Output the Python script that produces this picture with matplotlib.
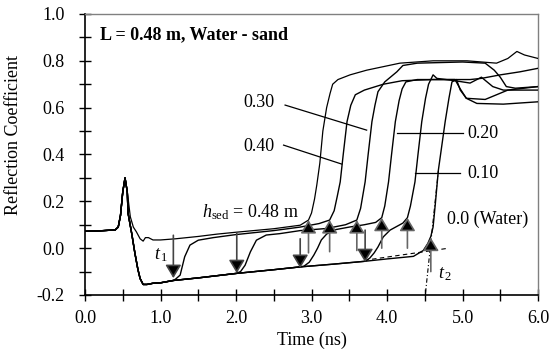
import numpy as np
import matplotlib
matplotlib.use('Agg')
import matplotlib.pyplot as plt
from matplotlib.ticker import MultipleLocator, FormatStrFormatter

plt.rcParams['font.family'] = ['Liberation Serif', 'DejaVu Serif']
plt.rcParams['font.size'] = 13
plt.rcParams['axes.unicode_minus'] = False
plt.rcParams['mathtext.fontset'] = 'custom'
plt.rcParams['mathtext.rm'] = 'Liberation Serif'
plt.rcParams['mathtext.it'] = 'Liberation Serif:italic'

# shared start of every trace: baseline and launch pulse
pulse_t = [0.0, 0.2, 0.4, 0.44, 0.47, 0.50, 0.53, 0.56]
pulse_v = [0.072, 0.074, 0.078, 0.09, 0.14, 0.24, 0.30, 0.24]

# probe fully in water (lower band), used up to t1 by the partly covered traces
water_t = [0.57, 0.62, 0.66, 0.70, 0.73, 0.77, 0.82, 0.9, 1.0, 1.17, 1.5, 2.0, 2.5,
           2.85, 3.3, 3.71, 4.0, 4.35, 4.48, 4.54, 4.58, 4.61, 4.64, 4.68, 4.77,
           4.82, 4.86]
water_v = [0.15, 0.06, -0.02, -0.09, -0.13, -0.155, -0.155, -0.15, -0.148, -0.138,
           -0.127, -0.108, -0.092, -0.08, -0.068, -0.056, -0.046, -0.035, -0.01,
           0.02, 0.05, 0.09, 0.19, 0.333, 0.54, 0.64, 0.71]

# h_sed = 0.48 m (all sand)
sand48_t = [0.60, 0.64, 0.68, 0.73, 0.77, 0.80, 0.84, 0.9, 1.0, 1.2, 1.5, 1.75, 2.0,
            2.5, 2.85, 2.96, 3.0, 3.04, 3.07, 3.11, 3.15, 3.2, 3.245, 3.28, 3.35,
            3.51, 3.73, 3.95, 4.17, 4.61, 5.06, 5.45, 5.6, 5.72, 5.82, 6.0]
sand48_v = [0.134, 0.09, 0.07, 0.04, 0.03, 0.045, 0.045, 0.035, 0.035, 0.04, 0.05,
            0.06, 0.068, 0.083, 0.098, 0.12, 0.15, 0.21, 0.27, 0.363, 0.5, 0.6,
            0.66, 0.70, 0.72, 0.74, 0.76, 0.775, 0.79, 0.80, 0.80, 0.79, 0.81,
            0.84, 0.825, 0.81]

# h_sed = 0.40 m
sand40_t1 = 1.17
sand40_t = [1.2, 1.26, 1.32, 1.39, 1.5, 1.7, 2.0, 2.5, 2.85, 3.1, 3.24, 3.3, 3.34,
            3.38, 3.42, 3.47, 3.52, 3.58, 3.7, 3.95, 4.2, 4.6, 5.1, 5.25, 5.5,
            5.76, 6.0]
sand40_v = [-0.132, -0.115, -0.037, 0.013, 0.034, 0.045, 0.058, 0.075, 0.09, 0.105,
            0.12, 0.16, 0.22, 0.283, 0.40, 0.54, 0.61, 0.655, 0.675, 0.70, 0.715,
            0.72, 0.72, 0.725, 0.74, 0.753, 0.768]

# h_sed = 0.30 m
sand30_t1 = 2.01
sand30_t = [2.06, 2.12, 2.19, 2.27, 2.4, 2.58, 2.85, 3.2, 3.45, 3.6, 3.65, 3.71,
            3.75, 3.80, 3.84, 3.88, 3.97, 4.13, 4.21, 4.4, 5.0, 5.3, 5.42, 5.5,
            5.58, 5.7, 6.0]
sand30_v = [-0.1, -0.073, -0.016, 0.034, 0.056, 0.062, 0.075, 0.084, 0.1, 0.12,
            0.17, 0.283, 0.40, 0.54, 0.61, 0.668, 0.71, 0.753, 0.78, 0.79, 0.795,
            0.79, 0.76, 0.73, 0.69, 0.683, 0.69]

# h_sed = 0.20 m
sand20_t1 = 2.85
sand20_t = [2.9, 2.97, 3.03, 3.08, 3.13, 3.2, 3.3, 3.5, 3.7, 3.85, 3.93, 3.97, 4.02,
            4.06, 4.11, 4.16, 4.2, 4.25, 4.4, 4.9, 4.97, 5.05, 5.3, 5.45, 5.6, 6.0]
sand20_v = [-0.077, -0.06, -0.03, 0.0, 0.035, 0.06, 0.078, 0.09, 0.1, 0.11, 0.13,
            0.18, 0.283, 0.40, 0.54, 0.63, 0.68, 0.71, 0.72, 0.72, 0.68, 0.64,
            0.635, 0.655, 0.675, 0.69]

# h_sed = 0.10 m
sand10_t1 = 3.71
sand10_t = [3.77, 3.83, 3.88, 3.95, 4.04, 4.21, 4.27, 4.31, 4.37, 4.41, 4.46, 4.51,
            4.55, 4.61, 4.66, 4.9, 5.1, 5.25, 5.4, 5.54, 6.0]
sand10_v = [-0.043, -0.02, 0.005, 0.048, 0.077, 0.107, 0.13, 0.18, 0.283, 0.40,
            0.54, 0.64, 0.70, 0.74, 0.725, 0.715, 0.705, 0.73, 0.69, 0.675, 0.675]

# h_sed = 0.0 (water only), after the common water part
water_end_t = [4.92, 4.97, 5.05, 5.19, 5.54, 6.0]
water_end_v = [0.72, 0.675, 0.64, 0.618, 0.615, 0.625]

# arrows: t1 (down) and t2 (up)
t1_times = [1.17, 2.01, 2.85, 3.71]
t1_tail = [0.055, 0.064, 0.04, 0.077]
t1_tip = [-0.128, -0.107, -0.085, -0.06]
t2_times = [2.96, 3.24, 3.60, 3.93, 4.27, 4.58]
t2_tail = [-0.02, -0.015, -0.01, 0.0, 0.0, -0.10]
t2_tip = [0.12, 0.12, 0.12, 0.13, 0.13, 0.045]

# tangent construction for t2
tangent_flat_t = [3.70, 4.82]
tangent_flat_v = [-0.052, 0.0]
tangent_steep_t = [4.51, 4.68]
tangent_steep_v = [-0.19, 0.33]

# leader lines for the labels
leader_30 = ([2.65, 3.73], [0.611, 0.504])
leader_40 = ([2.63, 3.40], [0.44, 0.359])
leader_20 = ([4.13, 5.01], [0.49, 0.49])
leader_10 = ([4.37, 4.97], [0.32, 0.32])


def build_trace(t1, own_t, own_v):
    wt = np.array(water_t)
    wv = np.array(water_v)
    keep = wt <= t1
    t = np.concatenate([pulse_t, wt[keep], own_t])
    v = np.concatenate([pulse_v, wv[keep], own_v])
    return t, v


fig = plt.figure(figsize=(5.52, 3.54), dpi=100)
ax = fig.add_axes([0.154, 0.1667, 0.8207, 0.7938])

traces = [
    (np.concatenate([pulse_t, sand48_t]), np.concatenate([pulse_v, sand48_v]), 0.9),
    build_trace(sand40_t1, sand40_t, sand40_v) + (1.0,),
    build_trace(sand30_t1, sand30_t, sand30_v) + (1.0,),
    build_trace(sand20_t1, sand20_t, sand20_v) + (1.0,),
    build_trace(sand10_t1, sand10_t, sand10_v) + (1.0,),
    build_trace(9.0, water_end_t, water_end_v) + (1.0,),
]
for t, v, lw in traces:
    ax.plot(t, v, color='black', lw=lw, zorder=3)

# arrows
for t, a, b in zip(t1_times, t1_tail, t1_tip):
    ax.annotate('', xy=(t, b), xytext=(t, a),
                arrowprops=dict(arrowstyle='-|>,head_length=0.5,head_width=0.3',
                                ec='#444444', fc='black', lw=1.2,
                                mutation_scale=16, shrinkA=0, shrinkB=0),
                zorder=4)
for t, a, b in zip(t2_times, t2_tail, t2_tip):
    ax.annotate('', xy=(t, b), xytext=(t, a),
                arrowprops=dict(arrowstyle='-|>,head_length=0.5,head_width=0.3',
                                ec='#666666', fc='black', lw=1.2,
                                mutation_scale=16, shrinkA=0, shrinkB=0),
                zorder=4)

ax.plot(tangent_flat_t, tangent_flat_v, color='black', lw=0.8, ls=(0, (4, 3)))
ax.plot(tangent_steep_t, tangent_steep_v, color='black', lw=0.8, ls=(0, (4, 2, 1, 2)))

for xs, ys in (leader_30, leader_40, leader_20, leader_10):
    ax.plot(xs, ys, color='black', lw=0.9)

ax.text(2.30, 0.62, '0.30', ha='center', va='center')
ax.text(2.30, 0.436, '0.40', ha='center', va='center')
ax.text(5.07, 0.49, '0.20', ha='left', va='center')
ax.text(5.07, 0.32, '0.10', ha='left', va='center')
ax.text(4.79, 0.123, '0.0 (Water)', ha='left', va='center')
ax.text(1.545, 0.155, r'$h_{\mathrm{sed}}$ = 0.48 m', ha='left', va='center')
ax.text(1.10, -0.03, r'$t_{\,1}$', ha='right', va='center')
ax.text(4.68, -0.11, r'$t_{\,2}$', ha='left', va='center')
ax.text(0.2, 0.91, 'L = 0.48 m, Water - sand', fontweight='bold',
        ha='left', va='center')

ax.set_xlim(0, 6)
ax.set_ylim(-0.2, 1.0)
ax.xaxis.set_major_locator(MultipleLocator(1.0))
ax.xaxis.set_minor_locator(MultipleLocator(0.5))
ax.yaxis.set_major_locator(MultipleLocator(0.2))
ax.yaxis.set_minor_locator(MultipleLocator(0.1))
ax.xaxis.set_major_formatter(FormatStrFormatter('%.1f'))
ax.yaxis.set_major_formatter(FormatStrFormatter('%.1f'))
ax.tick_params(which='both', direction='inout', length=9, width=1.0,
               top=False, right=False)
ax.tick_params(axis='y', which='major', pad=10)
ax.tick_params(axis='x', which='major', pad=6)

for side in ('left', 'bottom'):
    ax.spines[side].set_color('black')
    ax.spines[side].set_linewidth(1.2)
for side in ('top', 'right'):
    ax.spines[side].set_color('#808080')
    ax.spines[side].set_linewidth(1.0)

ax.set_xlabel('Time (ns)')
ax.set_ylabel('Reflection Coefficient')
ax.xaxis.set_label_coords(0.5, -0.13)
ax.yaxis.set_label_coords(-0.14, 0.57)

fig.savefig('out.png', dpi=100)
